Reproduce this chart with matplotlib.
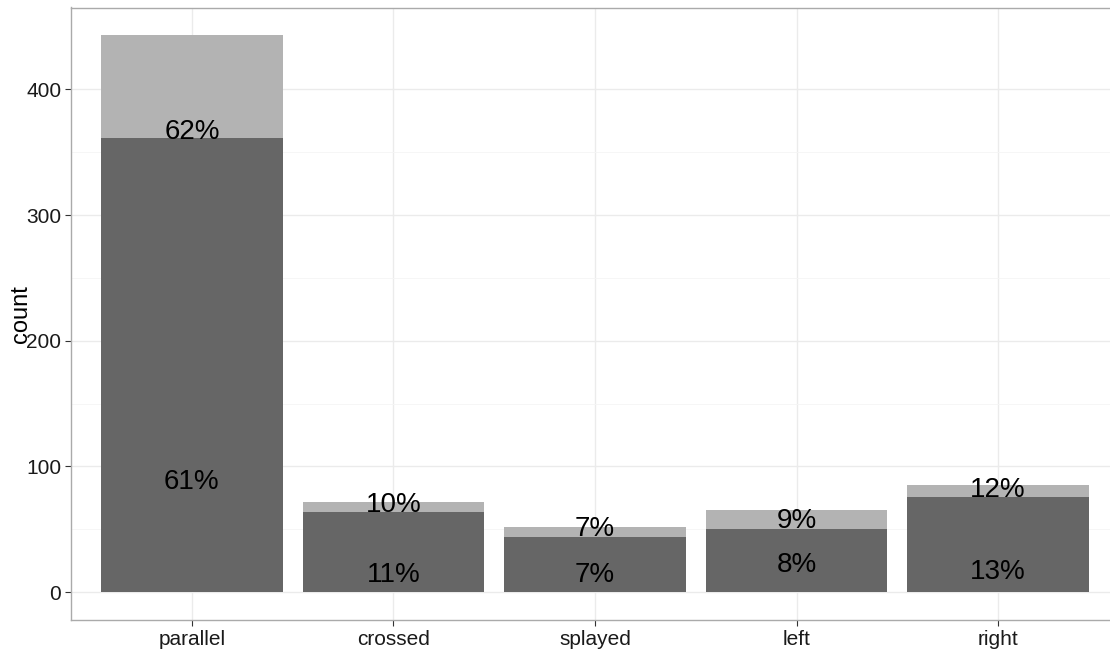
import matplotlib
matplotlib.use("Agg")
import matplotlib.pyplot as plt
import numpy as np

categories = ["parallel", "crossed", "splayed", "left", "right"]
dark_counts = [361, 64, 44, 50, 76]
total_counts = [443, 72, 52, 65, 85]
dark_labels = ["61%", "11%", "7%", "8%", "13%"]
light_labels = ["62%", "10%", "7%", "9%", "12%"]
dark_label_y = [88, 14, 14, 22, 16]
light_label_y = [366, 69.7, 50.4, 56.4, 81.6]

plt.rcParams['font.family'] = ['Liberation Sans', 'DejaVu Sans']

fig = plt.figure(figsize=(11.10, 6.55), dpi=100)
W, H = 1110, 655
left_px, right_px, top_px, bot_px = 71, 1119, 7.5, 620
ax = fig.add_axes([left_px / W, 1 - bot_px / H, (right_px - left_px) / W, (bot_px - top_px) / H])

x = np.arange(len(categories))
light_counts = [t - d for t, d in zip(total_counts, dark_counts)]
ax.bar(x, dark_counts, width=0.9, color="#666666", zorder=3)
ax.bar(x, light_counts, bottom=dark_counts, width=0.9, color="#b3b3b3", zorder=3)

for xi, lab, y in zip(x, dark_labels, dark_label_y):
    ax.text(xi, y, lab, ha="center", va="center", fontsize=20, color="black", zorder=4)
for xi, lab, y in zip(x, light_labels, light_label_y):
    ax.text(xi, y, lab, ha="center", va="center", fontsize=20, color="black", zorder=4)

ymax = max(total_counts)
ax.set_xlim(-0.6, len(categories) - 0.4)
ax.set_ylim(-0.05 * ymax, ymax * 1.05)
ax.set_xticks(x)
ax.set_xticklabels(categories)
ax.set_yticks([0, 100, 200, 300, 400])
ax.set_yticks([50, 150, 250, 350], minor=True)
ax.tick_params(axis="both", which="major", labelsize=15, length=4, color="#333333", labelcolor="#1a1a1a", width=0.8, pad=3)
ax.tick_params(axis="y", which="minor", length=0)
ax.grid(True, which="major", color="#ebebeb", linewidth=1.0, zorder=0)
ax.grid(True, which="minor", axis="y", color="#f5f5f5", linewidth=0.6, zorder=0)
ax.set_axisbelow(True)
for s in ax.spines.values():
    s.set_color("#aaaaaa")
    s.set_linewidth(1.0)
ax.set_ylabel("count", fontsize=17, color="black", labelpad=-4)

fig.savefig("out.png", dpi=100)
